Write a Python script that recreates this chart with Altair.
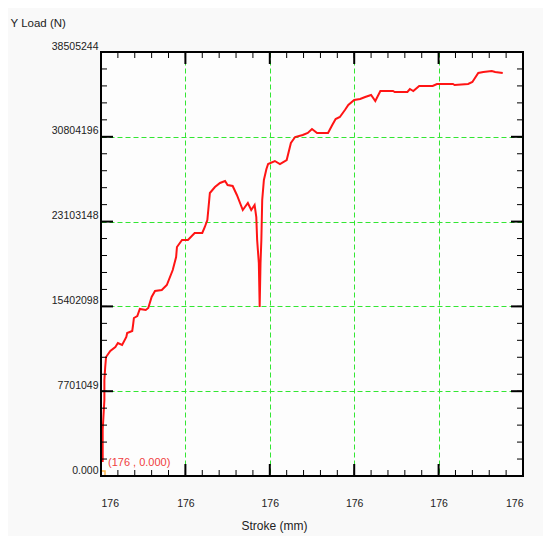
import altair as alt
import pandas as pd

# ---- data ----
stroke_mm = [176.0002, 176.0002, 176.0004, 176.0004, 176.0005, 176.0006, 176.0011, 176.0017,
             176.0020, 176.0025, 176.0030, 176.0031, 176.0037, 176.0038, 176.0039, 176.0043,
             176.0046, 176.0053, 176.0056, 176.0060, 176.0064, 176.0072, 176.0078, 176.0085,
             176.0089, 176.0090, 176.0096, 176.0103, 176.0111, 176.0120, 176.0123, 176.0126,
             176.0129, 176.0135, 176.0141, 176.0147, 176.0150, 176.0156, 176.0161, 176.0168,
             176.0174, 176.0178, 176.0182, 176.0184, 176.0185, 176.0187, 176.0188, 176.0189,
             176.0190, 176.0191, 176.0193, 176.0196, 176.0198, 176.0206, 176.0212, 176.0220,
             176.0225, 176.0230, 176.0239, 176.0245, 176.0250, 176.0256, 176.0269, 176.0274,
             176.0278, 176.0283, 176.0289, 176.0293, 176.0300, 176.0307, 176.0313, 176.0320,
             176.0325, 176.0331, 176.0346, 176.0348, 176.0363, 176.0366, 176.0370, 176.0377,
             176.0393, 176.0398, 176.0417, 176.0419, 176.0435, 176.0440, 176.0447, 176.0453,
             176.0463, 176.0467, 176.0476]
load_n = [1271000, 4177000, 6902000, 8718000, 9899000, 10807000, 11352000, 11715000,
          12078000, 11897000, 12623000, 12986000, 13168000, 13713000, 14349000, 14530000,
          15166000, 15075000, 15257000, 16256000, 16801000, 16891000, 17346000, 18708000,
          19888000, 20796000, 21432000, 21432000, 22068000, 22068000, 22613000, 23248000,
          25700000, 26245000, 26609000, 26790000, 26427000, 26336000, 25519000, 24157000,
          24792000, 24157000, 24611000, 23521000, 21432000, 19343000, 15348000, 19343000,
          21432000, 25065000, 26881000, 27880000, 28334000, 28606000, 28334000, 28697000,
          30241000, 30786000, 30968000, 31149000, 31513000, 31149000, 31149000, 31876000,
          32421000, 32602000, 33238000, 33692000, 34146000, 34237000, 34419000, 34600000,
          34055000, 34963000, 34963000, 34873000, 34873000, 35145000, 34963000, 35418000,
          35418000, 35599000, 35599000, 35508000, 35599000, 35781000, 36598000, 36689000,
          36780000, 36689000, 36598000]

x_major = [176.00, 176.01, 176.02, 176.03, 176.04, 176.05]
y_major = [0, 7701049, 15402098, 23103148, 30804196, 38505244]
x_minor = [round(176.0 + i * 0.002, 4) for i in range(26)]
y_minor = [38505244 * i / 25 for i in range(26)]

marker_label = ["(176 , 0.000)"]

W, H = 422, 424
FONT = "Liberation Sans"
TXT = "#222222"
GRID = "#33e633"

df = pd.DataFrame({"stroke": stroke_mm, "load": load_n, "idx": list(range(len(stroke_mm)))})

xs = alt.Scale(domain=[176.0, 176.05], nice=False, zero=False)
ys = alt.Scale(domain=[0, 38505244], nice=False, zero=True)

xaxis = alt.Axis(values=x_major, format=".0f", title="Stroke (mm)", tickSize=0, domain=False,
                 grid=True, gridColor=GRID, gridDash=[5, 3], gridWidth=1,
                 labelPadding=22, labelFont=FONT, labelFontSize=10.5, labelColor=TXT,
                 titleFont=FONT, titleFontSize=12, titleFontWeight="normal", titleColor=TXT,
                 titleX=173, titleY=49, titleAlign="center", titleBaseline="middle")
yaxis = alt.Axis(values=y_major,
                 labelExpr="datum.value == 0 ? '0.000' : format(datum.value, 'd')",
                 tickSize=0, domain=False, grid=True, gridColor=GRID, gridDash=[5, 3], gridWidth=1,
                 labelPadding=3, labelOffset=-6, labelFont=FONT, labelFontSize=10.5, labelColor=TXT,
                 title="Y Load (N)", titleAngle=0, titleAlign="left", titleBaseline="middle",
                 titleX=-91, titleY=-29, titleFont=FONT, titleFontSize=11.5,
                 titleFontWeight="normal", titleColor=TXT)


def X(f):
    return alt.X(f, type="quantitative", scale=xs, axis=xaxis)


def Y(f):
    return alt.Y(f, type="quantitative", scale=ys, axis=yaxis)


line = alt.Chart(df).mark_line(color="#ff1414", strokeWidth=2).encode(
    x=X("stroke"), y=Y("load"), order="idx:Q")

xmaj = pd.DataFrame({"t": x_major})
xmin = pd.DataFrame({"t": x_minor})
ymaj = pd.DataFrame({"t": y_major})
ymin = pd.DataFrame({"t": y_minor})

layers = [line]
for d, ln, sw in [(xmaj, 12, 2), (xmin, 6, 1)]:
    layers.append(alt.Chart(d).mark_rule(color="black", strokeWidth=sw).encode(
        x=X("t"), y=alt.value(H), y2=alt.value(H - ln)))
    layers.append(alt.Chart(d).mark_rule(color="black", strokeWidth=sw).encode(
        x=X("t"), y=alt.value(0), y2=alt.value(ln)))
for d, ln, sw in [(ymaj, 12, 2), (ymin, 6, 1)]:
    layers.append(alt.Chart(d).mark_rule(color="black", strokeWidth=sw).encode(
        y=Y("t"), x=alt.value(0), x2=alt.value(ln)))
    layers.append(alt.Chart(d).mark_rule(color="black", strokeWidth=sw).encode(
        y=Y("t"), x=alt.value(W), x2=alt.value(W - ln)))

lab = pd.DataFrame({"x": [176.0], "y": [0], "label": marker_label})
layers.append(alt.Chart(lab).mark_text(align="left", baseline="middle", dx=7, dy=-13,
                                       font=FONT, fontSize=11, color="#f04040").encode(
    x=X("x"), y=Y("y"), text="label:N"))
layers.append(alt.Chart(lab).mark_point(shape="M-1,-1L1,-1L1,1", filled=False, color="#ff9900",
                                        strokeWidth=1.5, size=16, xOffset=2, yOffset=-3).encode(
    x=X("x"), y=Y("y")))

border = alt.Chart(pd.DataFrame({"b": [0]})).mark_rect(
    filled=False, stroke="black", strokeWidth=2, fill=None).encode(
    x=alt.value(0), x2=alt.value(W), y=alt.value(0), y2=alt.value(H))
layers.append(border)

chart = alt.layer(*layers).properties(
    width=W, height=H,
    autosize=alt.AutoSizeParams(type="none"),
    padding={"left": 93, "top": 44, "right": 20, "bottom": 60},
    background="#f9f9f9",
).configure_view(fill="#fdfdfd", stroke=None)

chart.save("out.html", embed_options={"renderer": "svg", "actions": False})
